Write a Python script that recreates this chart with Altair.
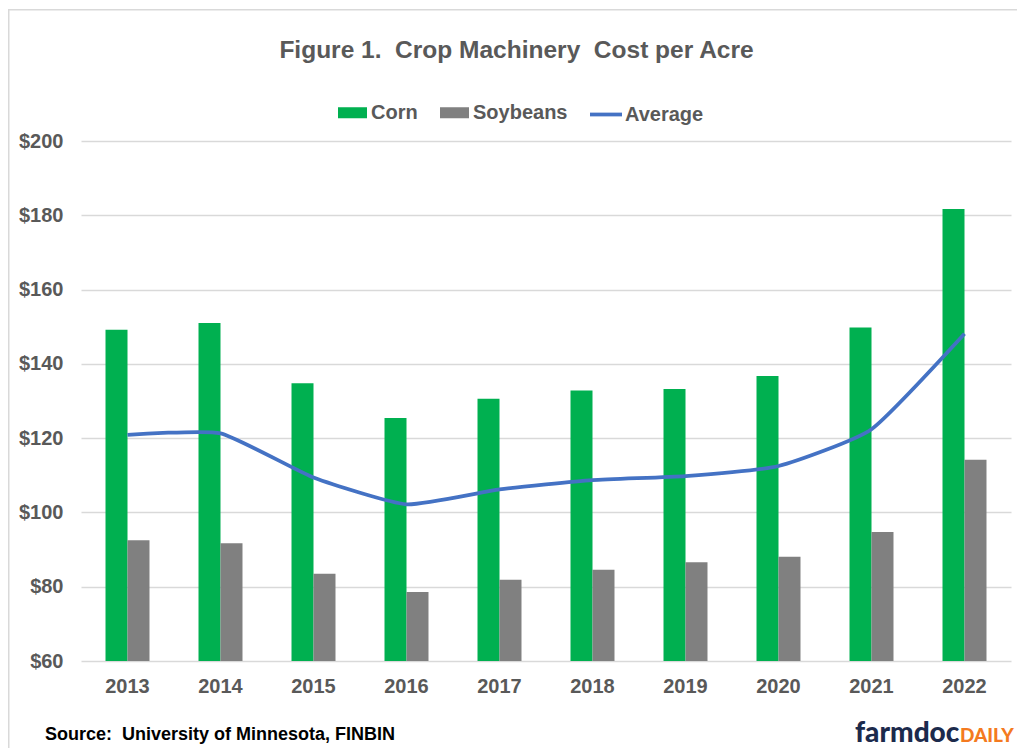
import altair as alt
import pandas as pd

years = ["2013", "2014", "2015", "2016", "2017", "2018", "2019", "2020", "2021", "2022"]
corn = [149.2, 151.0, 134.8, 125.4, 130.6, 132.8, 133.2, 136.7, 149.8, 181.7]
soybeans = [92.5, 91.7, 83.5, 78.6, 81.9, 84.6, 86.6, 88.1, 94.7, 114.2]
average = [120.9, 121.3, 109.4, 102.2, 106.2, 108.7, 109.8, 112.5, 122.4, 148.1]
bar_series = ["Corn", "Soybeans"]
bar_colors = ["#00B050", "#808080"]
line_series = ["Average"]
line_colors = ["#4472C4"]
y_ticks = [60, 80, 100, 120, 140, 160, 180, 200]
title_text = "Figure 1.\u00a0 Crop Machinery\u00a0 Cost per Acre"
source_text = ["Source:\u00a0 University of Minnesota, FINBIN"]
logo_main = ["farmdoc"]
logo_tail = ["DAILY"]

rows = []
for i, yr in enumerate(years):
    rows.append({"year": yr, "series": "Corn", "value": corn[i]})
    rows.append({"year": yr, "series": "Soybeans", "value": soybeans[i]})
    rows.append({"year": yr, "series": "Average", "value": average[i]})
df = pd.DataFrame(rows)

FONT = "Liberation Sans"
GRAY = "#595959"

x_enc = alt.X(
    "year:N", sort=years, title=None,
    scale=alt.Scale(paddingInner=0.527, paddingOuter=0.2635),
    axis=alt.Axis(labelFont=FONT, labelFontSize=20, labelFontWeight="bold",
                  labelColor=GRAY, labelPadding=15, ticks=False, domain=False,
                  labelAngle=0, grid=False),
)
y_enc = alt.Y(
    "value:Q", title=None,
    scale=alt.Scale(domain=[60, 200], nice=False, zero=False),
    axis=alt.Axis(values=y_ticks, labelExpr="'$' + datum.value", labelFont=FONT,
                  labelFontSize=20, labelFontWeight="bold", labelColor=GRAY,
                  labelPadding=18, ticks=False, domain=False,
                  gridColor="#d9d9d9", gridWidth=1.3),
)
bar_legend = alt.Legend(
    title=None, orient="none", legendX=257, legendY=-43, direction="horizontal",
    labelFont=FONT, labelFontSize=20, labelFontWeight="bold", labelColor=GRAY,
    labelOffset=4, columnPadding=22, symbolSize=841, symbolStrokeWidth=0,
    symbolType="M-1,-0.38H1V0.38H-1Z", symbolOpacity=1,
)
line_legend = alt.Legend(
    title=None, orient="none", legendX=507, legendY=-44.5, direction="horizontal",
    labelFont=FONT, labelFontSize=20, labelFontWeight="bold", labelColor=GRAY,
    labelOffset=1, symbolSize=1024, symbolStrokeWidth=3.75,
    symbolType="M-1,0H1", symbolOpacity=1,
)

base = alt.Chart(df)
bars = base.transform_filter(
    alt.FieldOneOfPredicate(field="series", oneOf=bar_series)
).mark_bar(clip=True).encode(
    x=x_enc, y=y_enc,
    fill=alt.Fill("series:N", scale=alt.Scale(domain=bar_series, range=bar_colors), legend=bar_legend),
    xOffset=alt.XOffset("series:N", scale=alt.Scale(domain=bar_series, paddingInner=0, paddingOuter=0)),
)
line = base.transform_filter(
    alt.FieldOneOfPredicate(field="series", oneOf=line_series)
).mark_line(strokeWidth=3.75, interpolate="cardinal", tension=0.5).encode(
    x=x_enc, y=y_enc,
    stroke=alt.Stroke("series:N", scale=alt.Scale(domain=line_series, range=line_colors), legend=line_legend),
)

source = alt.Chart(pd.DataFrame({"t": source_text})).mark_text(
    font=FONT, fontSize=18, fontWeight="bold", color="#000000", align="left", baseline="alphabetic"
).encode(x=alt.value(-36), y=alt.value(598.5), text="t:N")
logo1 = alt.Chart(pd.DataFrame({"t": logo_main})).mark_text(
    font="Lato", fontSize=28, fontWeight=900, color="#1c2a4c", align="left", baseline="alphabetic"
).encode(x=alt.value(774), y=alt.value(600.5), text="t:N")
logo2 = alt.Chart(pd.DataFrame({"t": logo_tail})).mark_text(
    font="Lato", fontSize=19, fontWeight=900, color="#f47a20", align="left", baseline="alphabetic"
).encode(x=alt.value(879), y=alt.value(600.5), text="t:N")
border = alt.Chart(pd.DataFrame({"t": [0]})).mark_rect(
    filled=False, stroke="#d9d9d9", strokeWidth=1.5
).encode(x=alt.value(-72.25), x2=alt.value(1000), y=alt.value(-131.25), y2=alt.value(700))

chart = alt.layer(bars, line, source, logo1, logo2, border).properties(
    width=930, height=520,
    title=alt.Title(title_text, font=FONT, fontSize=24.5, fontWeight="bold", color=GRAY,
                    anchor="middle", dx=-29.5, dy=78, baseline="bottom", offset=0),
    autosize=alt.AutoSizeParams(type="none"),
    padding={"left": 73, "top": 133, "right": 6, "bottom": 87},
).configure_view(strokeWidth=0)

chart.save("out.html", embed_options={"renderer": "svg", "actions": False})
